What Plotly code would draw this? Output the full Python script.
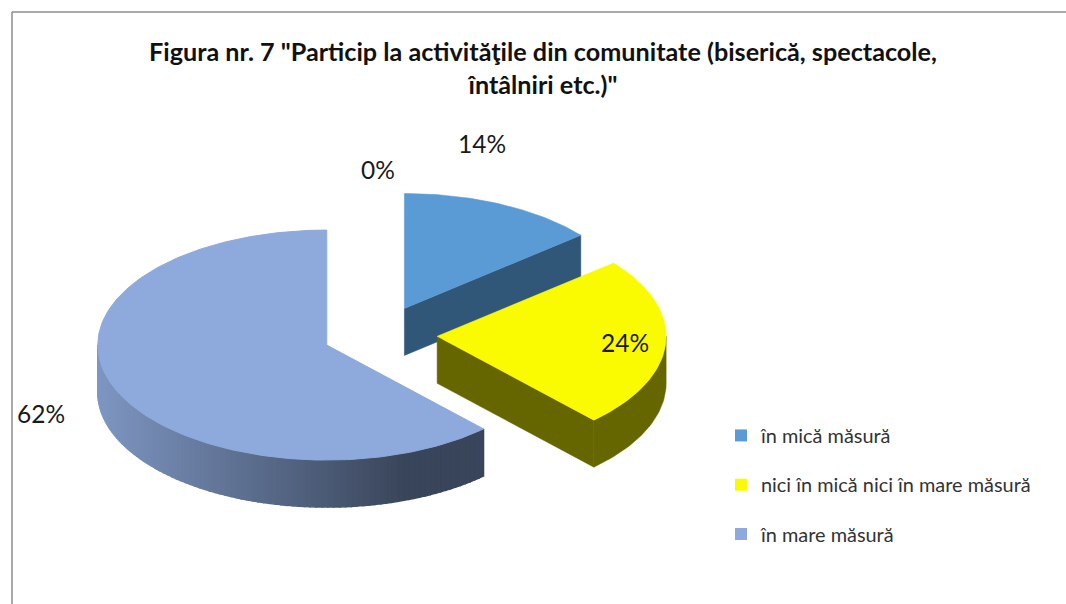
import math
import plotly.graph_objects as go

# ---- data ----
categories = ["în mică măsură", "nici în mică nici în mare măsură", "în mare măsură"]
values = [14, 24, 62]
zero_value = 0
top_colors = ["#5B9BD5", "#FAFA00", "#8EA9DB"]
side_colors = ["#305678", "#666600", None]

# ---- projection of the tilted pie onto the pixel-sized axes ----
CX, CY = 380.0, 334.5
RX, RY = 229.0, 115.0
DEPTH = 47.0
PULL = 0.25
W, H = 1066, 604


def rim(cx, cy, turn):
    a = 2 * math.pi * turn
    return cx + RX * math.sin(a), cy - RY * math.cos(a)


def arc(cx, cy, t0, t1, dy=0.0):
    n = max(2, int(abs(t1 - t0) * 360))
    pts = [rim(cx, cy, t0 + (t1 - t0) * i / n) for i in range(n + 1)]
    return [p[0] for p in pts], [p[1] + dy for p in pts]


def lerp(c0, c1, f):
    return "rgb(%d,%d,%d)" % tuple(round(a + (b - a) * f) for a, b in zip(c0, c1))


fig = go.Figure()


def poly(xs, ys, color, lw=0.5):
    fig.add_trace(go.Scatter(x=xs, y=ys, mode="lines", fill="toself", fillcolor=color,
                             line=dict(color=color, width=lw), hoverinfo="skip",
                             showlegend=False))


total = sum(values)
turns = []
acc = 0.0
for v in values:
    turns.append((acc / total, (acc + v) / total))
    acc += v

centres = []
for t0, t1 in turns:
    mid = 2 * math.pi * (t0 + t1) / 2
    centres.append((CX + PULL * RX * math.sin(mid), CY - PULL * RY * math.cos(mid)))

# blue: radial wall + top
(cx, cy), (t0, t1) = centres[0], turns[0]
ex, ey = rim(cx, cy, t1)
poly([cx, ex, ex, cx, cx], [cy, ey, ey + DEPTH, cy + DEPTH, cy], side_colors[0])
ax, ay = arc(cx, cy, t0, t1)
poly([cx] + ax + [cx], [cy] + ay + [cy], top_colors[0])

# big slice: shaded outer wall + top
(cx, cy), (t0, t1) = centres[2], turns[2]
LEFT, DARK = (126, 150, 194), (57, 69, 90)
wall_end = 0.75
n_strips = 90
for i in range(n_strips):
    a0 = t0 + (wall_end - t0) * i / n_strips
    a1 = t0 + (wall_end - t0) * (i + 1) / n_strips
    xt, yt = arc(cx, cy, a0, a1)
    xb, yb = arc(cx, cy, a1, a0, DEPTH)
    f = min(1.0, max(0.0, (xt[0] - (cx - RX)) / (0.82 * 2 * 0.75 * RX * 1.1)))
    poly(xt + xb + [xt[0]], yt + yb + [yt[0]], lerp(LEFT, DARK, f), lw=1.5)
ax, ay = arc(cx, cy, t0, t1)
poly([cx] + ax + [cx], [cy] + ay + [cy], top_colors[2], lw=1)

# yellow: radial wall, outer wall, top
(cx, cy), (t0, t1) = centres[1], turns[1]
ex, ey = rim(cx, cy, t1)
poly([cx, ex, ex, cx, cx], [cy, ey, ey + DEPTH, cy + DEPTH, cy], side_colors[1])
xt, yt = arc(cx, cy, 0.25, t1)
xb, yb = arc(cx, cy, t1, 0.25, DEPTH)
poly(xt + xb + [xt[0]], yt + yb + [yt[0]], side_colors[1])
ax, ay = arc(cx, cy, t0, t1)
poly([cx] + ax + [cx], [cy] + ay + [cy], top_colors[1])

# legend entries
for name, col in zip(categories, top_colors):
    fig.add_trace(go.Scatter(x=[None], y=[None], mode="markers", name=name, legendgroup=name,
                             marker=dict(symbol="square", size=12, color=col)))

# data labels
FONT = "Lato, Carlito, Calibri, sans-serif"
label_values = [values[0], zero_value, values[1], values[2]]
label_xy = [(482, 143), (378, 169), (625, 342), (41, 413)]
annotations = [dict(x=x, y=y, xref="x", yref="y", text=f"{v}%", showarrow=False,
                    font=dict(family=FONT, size=24.5, color="#1a1a1a"))
               for v, (x, y) in zip(label_values, label_xy)]

fig.update_layout(
    width=W, height=H, margin=dict(l=0, r=0, t=0, b=0),
    paper_bgcolor="white", plot_bgcolor="white",
    xaxis=dict(range=[0, W], visible=False, fixedrange=True),
    yaxis=dict(range=[H, 0], visible=False, fixedrange=True),
    title=dict(text='Figura nr. 7 "Particip la activităţile din comunitate (biserică, spectacole,<br>întâlniri etc.)"',
               x=543 / W, xanchor="center", y=1 - 61 / H, yanchor="top",
               font=dict(family=FONT, size=25.2, color="#111111", weight="bold")),
    legend=dict(x=721 / W, y=1 - 416 / H, xanchor="left", yanchor="top",
                bgcolor="rgba(0,0,0,0)", tracegroupgap=20.4, itemwidth=30,
                font=dict(family=FONT, size=19.9, color="#333333")),
    annotations=annotations,
    shapes=[
        dict(type="line", x0=12, x1=W, y0=12, y1=12, line=dict(color="#8c8c8c", width=1.5)),
        dict(type="line", x0=12, x1=12, y0=12, y1=H, line=dict(color="#8c8c8c", width=1.5)),
    ],
)
fig.write_html("out.html", config={"displayModeBar": False},
               post_script="document.body.style.margin='0';document.body.style.overflow='hidden';")
